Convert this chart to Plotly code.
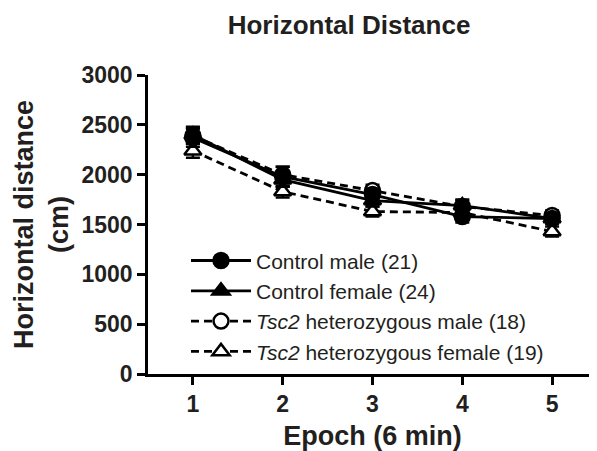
import plotly.graph_objects as go

epochs = [1, 2, 3, 4, 5]
tick_labels = ["1", "2", "3", "4", "5"]
y_ticks = [0, 500, 1000, 1500, 2000, 2500, 3000]

control_male = [2370, 1980, 1800, 1580, 1560]
control_male_sem = [90, 100, 60, 60, 50]
control_female = [2400, 1950, 1740, 1690, 1560]
control_female_sem = [80, 70, 60, 60, 50]
tsc2_male = [2390, 2000, 1840, 1680, 1590]
tsc2_male_sem = [80, 80, 60, 60, 50]
tsc2_female = [2240, 1830, 1630, 1620, 1430]
tsc2_female_sem = [70, 60, 50, 50, 50]

names = [
    "Control male (21)",
    "Control female (24)",
    "<i>Tsc2</i> heterozygous male (18)",
    "<i>Tsc2</i> heterozygous female (19)",
]

FONT = "Liberation Sans, Arial, sans-serif"
TXT = "#231f20"

# the page body has an 8px default margin; size the figure to fit the window
OFF = 8
W, H = 597 - OFF, 451 - OFF
L, T, B = 148 - OFF, 75 - OFF, 77
PW = W - L

fig = go.Figure()

series = [
    (tsc2_female, tsc2_female_sem, names[3], "triangle-up", True, "8px,5px", 4),
    (tsc2_male, tsc2_male_sem, names[2], "circle", True, "8px,5px", 3),
    (control_female, control_female_sem, names[1], "triangle-up", False, "solid", 2),
    (control_male, control_male_sem, names[0], "circle", False, "solid", 1),
]

for vals, sem, name, sym, open_m, dash, rank in series:
    fig.add_trace(go.Scatter(
        x=epochs, y=vals, name=name, legendrank=rank,
        mode="lines+markers",
        line=dict(color="black", width=2.8, dash=dash),
        marker=dict(symbol=sym, size=15,
                    color="white" if open_m else "black",
                    line=dict(color="black", width=2.5)),
        error_y=dict(type="data", array=sem, visible=True,
                     color="black", thickness=2.5, width=7),
    ))

fig.update_layout(
    width=W, height=H,
    margin=dict(l=L, r=0, t=T, b=B, autoexpand=False),
    paper_bgcolor="white", plot_bgcolor="white",
    font=dict(family=FONT, color=TXT),
    title=dict(text="Horizontal Distance", x=(349 - OFF) / W, xref="container",
               xanchor="center", y=1 - (25 - OFF) / H, yref="container", yanchor="middle",
               font=dict(size=26, weight="bold", color=TXT, family=FONT)),
    showlegend=True,
    legend=dict(x=(186 - OFF - L) / PW, y=0.447, xanchor="left", yanchor="top",
                bgcolor="rgba(0,0,0,0)", font=dict(size=21, color=TXT, family=FONT),
                tracegroupgap=0, itemwidth=60),
    xaxis=dict(range=[0.5, 5.5], tickvals=epochs, ticktext=tick_labels,
               showline=True, linecolor="black", linewidth=2.5,
               ticks="outside", ticklen=8, tickwidth=2.5, tickcolor="black",
               showgrid=False, zeroline=False,
               tickfont=dict(size=23, weight="bold", color=TXT, family=FONT),
               title=dict(text="Epoch (6 min)", standoff=10,
                          font=dict(size=27, weight="bold", color=TXT, family=FONT))),
    yaxis=dict(range=[0, 3000], tickvals=y_ticks,
               showline=True, linecolor="black", linewidth=2.5,
               ticks="outside", ticklen=8, tickwidth=2.5, tickcolor="black",
               showgrid=False, zeroline=False,
               tickfont=dict(size=23, weight="bold", color=TXT, family=FONT)),
    annotations=[dict(text="Horizontal distance<br>(cm)", textangle=-90,
                      xref="paper", yref="paper", x=(41.5 - 148) / PW, y=0.5,
                      xanchor="center", yanchor="middle", showarrow=False,
                      font=dict(size=27, weight="bold", color=TXT, family=FONT))],
)

fig.write_html("out.html")
